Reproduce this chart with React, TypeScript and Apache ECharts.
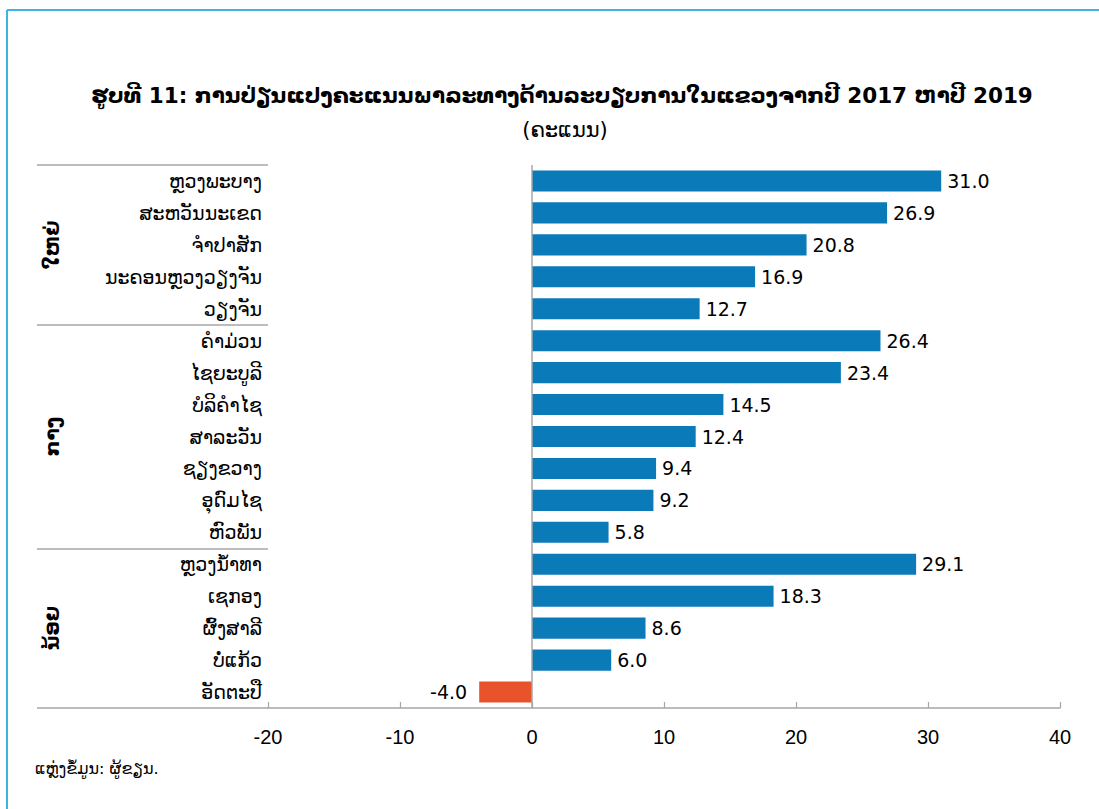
import React, { useEffect, useRef } from "react";
import * as echarts from "echarts";

const provinces = [
  "ຫຼວງພະບາງ",
  "ສະຫວັນນະເຂດ",
  "ຈຳປາສັກ",
  "ນະຄອນຫຼວງວຽງຈັນ",
  "ວຽງຈັນ",
  "ຄຳມ່ວນ",
  "ໄຊຍະບູລີ",
  "ບໍລິຄຳໄຊ",
  "ສາລະວັນ",
  "ຊຽງຂວາງ",
  "ອຸດົມໄຊ",
  "ຫົວພັນ",
  "ຫຼວງນ້ຳທາ",
  "ເຊກອງ",
  "ຜົ້ງສາລີ",
  "ບໍ່ແກ້ວ",
  "ອັດຕະປື",
];
const values = [31.0, 26.9, 20.8, 16.9, 12.7, 26.4, 23.4, 14.5, 12.4, 9.4, 9.2, 5.8, 29.1, 18.3, 8.6, 6.0, -4.0];
const groupNames = ["ໃຫຍ່", "ກາງ", "ນ້ອຍ"];
const groupStarts = [0, 5, 12];
const xTicks = [-20, -10, 0, 10, 20, 30, 40];

const titleText = "ຮູບທີ 11: ການປ່ຽນແປງຄະແນນພາລະທາງດ້ານລະບຽບການໃນແຂວງຈາກປີ 2017 ຫາປີ 2019";
const subtitleText = "(ຄະແນນ)";
const sourceText = "ແຫຼ່ງຂໍ້ມູນ: ຜູ້ຂຽນ.";

const BLUE = "#0a7ab8";
const ORANGE = "#e8532b";
const GRAY = "#a6a6a6";
const LAO = "'DejaVu Sans', 'Noto Sans', sans-serif";

export default function App() {
  const ref = useRef<HTMLDivElement>(null);
  useEffect(() => {
    document.body.style.margin = "0";
    const chart = echarts.init(ref.current!, null, { renderer: "svg" });
    const option: any = {
      animation: false,
      backgroundColor: "#ffffff",
      title: [
        {
          text: titleText,
          left: 557,
          top: 79,
          textAlign: "center",
          textStyle: { fontFamily: LAO, fontSize: 21.5, fontWeight: "bold", color: "#000" },
        },
        {
          text: subtitleText,
          left: 560,
          top: 114,
          textAlign: "center",
          textStyle: { fontFamily: LAO, fontSize: 21, fontWeight: "normal", color: "#000" },
        },
      ],
      grid: { left: 268, right: 39, top: 165, bottom: 101, containLabel: false },
      xAxis: {
        type: "value",
        min: xTicks[0],
        max: xTicks[xTicks.length - 1],
        interval: 10,
        axisLine: { show: true, onZero: false, lineStyle: { color: GRAY, width: 1.5 } },
        axisTick: { show: true, inside: true, length: 6, lineStyle: { color: GRAY, width: 1.2 } },
        splitLine: { show: false },
        axisLabel: {
          margin: 19,
          fontFamily: "'Liberation Sans Narrow', 'Liberation Sans', Arial, sans-serif",
          fontSize: 20,
          color: "#000",
        },
      },
      yAxis: {
        type: "category",
        inverse: true,
        data: provinces,
        axisLine: { show: false, onZero: false },
        axisTick: {
          show: true,
          length: 231,
          interval: (index: number) => groupStarts.indexOf(index) >= 0,
          lineStyle: { color: GRAY, width: 1.5 },
        },
        axisLabel: {
          interval: 0,
          margin: 6,
          fontFamily: LAO,
          fontSize: 19,
          color: "#000",
        },
      },
      series: [
        {
          type: "bar",
          barCategoryGap: "34%",
          data: values.map((v) => ({
            value: v,
            itemStyle: { color: v < 0 ? ORANGE : BLUE },
            label: v < 0 ? { position: "left", distance: 12 } : { position: "right", distance: 6 },
          })),
          label: {
            show: true,
            fontFamily: "'DejaVu Sans', sans-serif",
            fontSize: 19,
            color: "#000",
            formatter: (p: any) => Number(p.value).toFixed(1),
          },
          markLine: {
            silent: true,
            symbol: "none",
            label: { show: false },
            lineStyle: { color: GRAY, width: 1.5, type: "solid" },
            data: [{ xAxis: 0 }],
          },
        },
      ],
    };
    chart.setOption(option);

    const bounds = groupStarts.map((s, i) => {
      const e = i + 1 < groupStarts.length ? groupStarts[i + 1] - 1 : provinces.length - 1;
      const y1 = chart.convertToPixel({ yAxisIndex: 0 }, provinces[s]) as number;
      const y2 = chart.convertToPixel({ yAxisIndex: 0 }, provinces[e]) as number;
      return (y1 + y2) / 2;
    });

    chart.setOption({
      graphic: [
        {
          type: "line",
          shape: { x1: 7, y1: 10, x2: 1099, y2: 10 },
          style: { stroke: "#3db4e6", lineWidth: 2 },
          silent: true,
        },
        {
          type: "line",
          shape: { x1: 7, y1: 10, x2: 7, y2: 809 },
          style: { stroke: "#3db4e6", lineWidth: 2 },
          silent: true,
        },
        ...groupNames.map((g, i) => ({
          type: "text",
          x: 52,
          y: bounds[i],
          rotation: Math.PI / 2,
          style: {
            text: g,
            fontFamily: LAO,
            fontSize: 20,
            fontWeight: "bold",
            fill: "#000",
            align: "center",
            verticalAlign: "middle",
          },
          silent: true,
        })),
        {
          type: "text",
          left: 35,
          top: 760,
          style: { text: sourceText, fontFamily: LAO, fontSize: 16, fill: "#000" },
          silent: true,
        },
      ],
    });

    return () => chart.dispose();
  }, []);
  return <div ref={ref} style={{ width: 1099, height: 809 }} />;
}
